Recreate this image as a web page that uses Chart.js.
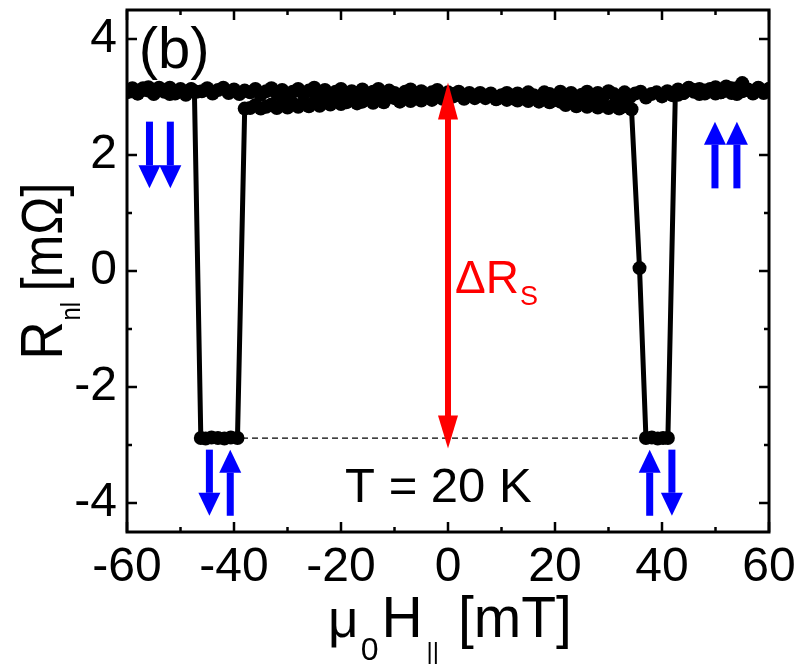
<!DOCTYPE html>
<html>
<head>
<meta charset="utf-8">
<script src="https://cdn.jsdelivr.net/npm/chart.js@4.4.1/dist/chart.umd.min.js"></script>
<style>
    html, body { margin: 0; padding: 0; background: #fff; }
    #contenedor { width: 795px; height: 668px; }
</style>
</head>
<body>
<div id="contenedor"><canvas id="grafico" width="795" height="668"></canvas></div>
<script>
// barrido de campo de +60 a -60 mT
let campoBajada = [60, 59, 58, 57, 56, 55, 54, 53, 52, 51, 50, 49, 48, 47, 46, 45, 44, 43,
    42, 41, 40, 39, 38, 37, 36, 35, 34, 33, 32, 31, 30, 29, 28, 27, 26, 25, 24, 23, 22, 21,
    20, 19, 18, 17, 16, 15, 14, 13, 12, 11, 10, 9, 8, 7, 6, 5, 4, 3, 2, 1, 0,
    -1, -2, -3, -4, -5, -6, -7, -8, -9, -10, -11, -12, -13, -14, -15, -16, -17, -18, -19, -20,
    -21, -22, -23, -24, -25, -26, -27, -28, -29, -30, -31, -32, -33, -34, -35, -36, -37, -38,
    -39.35, -40.6, -41.8, -43, -44.2, -45.3, -46.2,
    -47.4, -48, -49, -50, -51, -52, -53, -54, -55, -56, -57, -58, -59, -60]
let rBajada = [3.14, 3.07, 3.16, 3.06, 3.13, 3.10, 3.05, 3.15, 3.18, 3.08, 3.06, 3.14, 3.11, 3.05, 3.12, 3.15, 3.07, 3.04,
    3.03, 3.10, 3.01, 3.08, 3.05, 2.99, 3.09, 3.06, 3.00, 3.08, 2.98, 3.05, 3.10, 3.01, 3.07, 2.99, 3.09, 3.04, 2.98, 3.07,
    3.02, 3.09, 3.00, 3.05, 3.08, 2.98, 3.03, 3.08, 3.00, 3.06, 2.98, 3.07, 3.02, 2.97, 3.06, 3.00, 3.07, 2.98, 3.04, 2.97,
    3.05, 3.01, 2.99,
    2.97, 3.04, 2.95, 3.01, 2.94, 3.02, 2.93, 2.99, 2.92, 2.98, 3.00, 2.91, 2.97, 2.90, 2.97, 2.92, 2.89, 2.96, 2.91, 2.88,
    2.94, 2.87, 2.92, 2.85, 2.91, 2.84, 2.90, 2.83, 2.89, 2.82, 2.88, 2.81, 2.87, 2.83, 2.80, 2.86, 2.81, 2.80,
    -2.88, -2.87, -2.89, -2.88, -2.87, -2.89, -2.88,
    3.09, 3.13, 3.06, 3.14, 3.10, 3.05, 3.12, 3.16, 3.07, 3.11, 3.15, 3.06, 3.13, 3.10]

// barrido de campo de -60 a +60 mT
let campoSubida = [-60, -59, -58, -57, -56, -55, -54, -53, -52, -51, -50, -49, -48, -47,
    -46, -45, -44, -43, -42, -41, -40, -39, -38,
    -37, -36, -35, -34, -33, -32, -31, -30, -29, -28, -27, -26, -25, -24, -23, -22, -21, -20,
    -19, -18, -17, -16, -15, -14, -13, -12, -11, -10, -9, -8, -7, -6, -5, -4, -3, -2, -1, 0,
    1, 2, 3, 4, 5, 6, 7, 8, 9, 10, 11, 12, 13, 14, 15, 16, 17, 18, 19, 20,
    21, 22, 23, 24, 25, 26, 27, 28, 29, 30, 31, 32, 33,
    34.3, 35.8, 37, 38.1, 39.2, 40.2, 41.1,
    42.5, 43, 44, 45, 46, 47, 48, 49, 50, 51, 52, 53, 54, 55, 56, 57, 58, 59, 60]
let rSubida = [3.08, 3.15, 3.06, 3.12, 3.17, 3.05, 3.13, 3.09, 3.16, 3.06, 3.12, 3.04, 3.14, 3.09,
    3.10, 3.15, 3.06, 3.12, 3.16, 3.07, 3.13, 3.05, 3.11,
    3.08, 3.14, 3.04, 3.10, 3.15, 3.06, 3.12, 3.03, 3.09, 3.14, 3.05, 3.11, 3.16, 3.06, 3.12, 3.03, 3.09, 3.14,
    3.04, 3.10, 3.07, 3.13, 3.03, 3.09, 3.14, 3.05, 3.11, 3.07, 3.02, 3.09, 3.13, 3.04, 3.10, 3.03, 3.08, 3.12, 3.04, 3.08,
    3.05, 3.09, 3.01, 3.07, 2.99, 3.05, 2.98, 3.04, 2.96, 3.03, 2.95, 3.02, 2.94, 3.00, 2.93, 2.99, 2.92, 2.98, 2.91, 2.95,
    2.92, 2.86, 2.91, 2.84, 2.90, 2.83, 2.88, 2.82, 2.87, 2.81, 2.86, 2.80, 2.84,
    2.79, 0.05, -2.88, -2.87, -2.89, -2.88, -2.88,
    3.08, 3.13, 3.07, 3.16, 3.09, 3.14, 3.06, 3.12, 3.17, 3.08, 3.14, 3.07, 3.15, 3.24, 3.13, 3.08, 3.15, 3.10, 3.14]

// linea punteada del estado antiparalelo
let campoNivel = [-38.5, 35.4]
let rNivel = [-2.88, -2.88]

let ticksX = [-60, -40, -20, 0, 20, 40, 60]
let ticksXmenores = [-50, -30, -10, 10, 30, 50]
let ticksY = [-4, -2, 0, 2, 4]
let ticksYmenores = [-3, -1, 1, 3]

const fuente = '"Liberation Sans", Arial, sans-serif'

// flechas azules (x, y cola, y punta) en unidades de los ejes
const flechasAzules = [
    [-55.8, 2.575, 1.425], [-51.9, 2.575, 1.425],
    [49.9, 1.425, 2.575], [54.0, 1.425, 2.575],
    [-44.6, -3.08, -4.22], [-40.7, -4.22, -3.08],
    [37.7, -4.22, -3.08], [41.85, -3.08, -4.22]
]

function flecha(ctx, x, y0, y1, ancho, anchoPunta, largoPunta, color) {
    let dir = y1 > y0 ? 1 : -1
    let base = y1 - dir * largoPunta
    ctx.fillStyle = color
    ctx.fillRect(x - ancho / 2, Math.min(y0, base), ancho, Math.abs(base - y0))
    ctx.beginPath()
    ctx.moveTo(x, y1)
    ctx.lineTo(x - anchoPunta / 2, base)
    ctx.lineTo(x + anchoPunta / 2, base)
    ctx.closePath()
    ctx.fill()
}

function textoPartes(ctx, partes, x, y) {
    // partes: [texto, tamaño, desplazamiento vertical, espacio extra]
    let px = x
    partes.forEach(p => {
        ctx.font = p[1] + 'px ' + fuente
        ctx.fillText(p[0], px, y + p[2])
        px += ctx.measureText(p[0]).width + (p[3] || 0)
    })
    return px - x
}

function anchoPartes(ctx, partes) {
    let w = 0
    partes.forEach(p => {
        ctx.font = p[1] + 'px ' + fuente
        w += ctx.measureText(p[0]).width + (p[3] || 0)
    })
    return w
}

const decoracion = {
    id: 'decoracion',
    afterDatasetsDraw(chart) {
        const ctx = chart.ctx
        const xs = chart.scales.x
        const ys = chart.scales.y
        const a = chart.chartArea
        ctx.save()

        // flecha roja doble
        let xr = xs.getPixelForValue(0)
        let yArriba = ys.getPixelForValue(3.25)
        let yAbajo = ys.getPixelForValue(-3.06)
        ctx.fillStyle = '#ff0000'
        ctx.fillRect(xr - 3, yArriba + 36, 6, (yAbajo - 32) - (yArriba + 36))
        ctx.beginPath()
        ctx.moveTo(xr, yArriba)
        ctx.lineTo(xr - 10, yArriba + 37)
        ctx.lineTo(xr + 10, yArriba + 37)
        ctx.closePath()
        ctx.fill()
        ctx.beginPath()
        ctx.moveTo(xr, yAbajo)
        ctx.lineTo(xr - 10, yAbajo - 33)
        ctx.lineTo(xr + 10, yAbajo - 33)
        ctx.closePath()
        ctx.fill()

        // flechas azules
        flechasAzules.forEach(f => {
            flecha(ctx, xs.getPixelForValue(f[0]), ys.getPixelForValue(f[1]), ys.getPixelForValue(f[2]),
                7, 22, 23, '#0000ff')
        })

        // textos
        ctx.textBaseline = 'alphabetic'
        ctx.textAlign = 'left'
        ctx.fillStyle = '#ff0000'
        textoPartes(ctx, [['\u0394R', 46, 0, 1], ['S', 27, 12]], xs.getPixelForValue(1.3), ys.getPixelForValue(-0.38))

        ctx.fillStyle = '#000'
        ctx.font = '49px ' + fuente
        ctx.textAlign = 'center'
        ctx.fillText('T = 20 K', xs.getPixelForValue(-1.8), ys.getPixelForValue(-3.98))
        ctx.textAlign = 'left'
        ctx.font = '58px ' + fuente
        ctx.fillText('(b)', xs.getPixelForValue(-57.8), ys.getPixelForValue(3.5))

        // marco y ticks hacia adentro
        ctx.strokeStyle = '#000'
        ctx.lineWidth = 3
        ctx.strokeRect(a.left, a.top, a.right - a.left, a.bottom - a.top)
        ctx.lineWidth = 2.5
        ctx.beginPath()
        let marcaX = (v, l) => {
            let p = xs.getPixelForValue(v)
            ctx.moveTo(p, a.bottom); ctx.lineTo(p, a.bottom - l)
            ctx.moveTo(p, a.top); ctx.lineTo(p, a.top + l)
        }
        let marcaY = (v, l) => {
            let p = ys.getPixelForValue(v)
            ctx.moveTo(a.left, p); ctx.lineTo(a.left + l, p)
            ctx.moveTo(a.right, p); ctx.lineTo(a.right - l, p)
        }
        ticksX.forEach(v => marcaX(v, 10))
        ticksXmenores.forEach(v => marcaX(v, 5))
        ticksY.forEach(v => marcaY(v, 10))
        ticksYmenores.forEach(v => marcaY(v, 5))
        ctx.stroke()
        ctx.restore()
    },
    afterDraw(chart) {
        const ctx = chart.ctx
        const a = chart.chartArea
        ctx.save()
        ctx.fillStyle = '#000'
        ctx.textBaseline = 'alphabetic'
        ctx.textAlign = 'left'

        // titulo eje x
        let partesX = [['\u03bc', 53, 0, 2], ['0', 32, 23, 3], ['H', 57, 0, 4], ['||', 24, 22, 3], [' [mT]', 57, 0]]
        let wx = anchoPartes(ctx, partesX)
        textoPartes(ctx, partesX, (a.left + a.right) / 2 - wx / 2 + 2, 637)

        // titulo eje y (rotado)
        let partesY = [['R', 60, 0, 1], ['nl', 27, 18, 12], ['[m\u03a9]', 58, 0]]
        ctx.translate(62, (a.top + a.bottom) / 2)
        ctx.rotate(-Math.PI / 2)
        ctx.scale(0.88, 1)
        let wy = anchoPartes(ctx, partesY)
        textoPartes(ctx, partesY, -wy / 2, 0)
        ctx.restore()
    }
}

const ctxGrafico = document.getElementById('grafico')

let grafico = new Chart(ctxGrafico, {
    type: 'scatter',
    data: {
        datasets: [
            {
                label: 'nivel',
                data: campoNivel.map((x, i) => ({ x: x, y: rNivel[i] })),
                showLine: true,
                borderColor: '#000',
                borderWidth: 1.3,
                borderDash: [6, 4],
                pointRadius: 0,
                order: 3
            },
            {
                label: 'bajada',
                data: campoBajada.map((x, i) => ({ x: x, y: rBajada[i] })),
                showLine: true,
                borderColor: '#000',
                borderWidth: 5,
                pointRadius: 7,
                pointBackgroundColor: '#000',
                pointBorderWidth: 0,
                clip: 0,
                order: 2
            },
            {
                label: 'subida',
                data: campoSubida.map((x, i) => ({ x: x, y: rSubida[i] })),
                showLine: true,
                borderColor: '#000',
                borderWidth: 5,
                pointRadius: 7,
                pointBackgroundColor: '#000',
                pointBorderWidth: 0,
                clip: 0,
                order: 1
            }
        ]
    },
    options: {
        responsive: false,
        animation: false,
        layout: { padding: { top: 10, right: 26, left: 0, bottom: 0 } },
        plugins: {
            legend: { display: false },
            tooltip: { enabled: false }
        },
        scales: {
            x: {
                type: 'linear',
                min: -60,
                max: 60,
                grid: { display: false, drawTicks: false },
                border: { display: false },
                afterFit: s => { s.height = 136; s.paddingLeft = 0; s.paddingRight = 0 },
                afterBuildTicks: s => { s.ticks = ticksX.map(v => ({ value: v })) },
                ticks: {
                    color: '#000',
                    padding: 7,
                    maxRotation: 0,
                    font: { family: fuente, size: 48 }
                }
            },
            y: {
                type: 'linear',
                min: -4.5,
                max: 4.5,
                grid: { display: false, drawTicks: false },
                border: { display: false },
                afterFit: s => { s.width = 127; s.paddingTop = 0; s.paddingBottom = 0 },
                afterBuildTicks: s => { s.ticks = ticksY.map(v => ({ value: v })) },
                ticks: {
                    color: '#000',
                    padding: 10,
                    font: { family: fuente, size: 48 }
                }
            }
        }
    },
    plugins: [decoracion]
})
</script>
</body>
</html>
